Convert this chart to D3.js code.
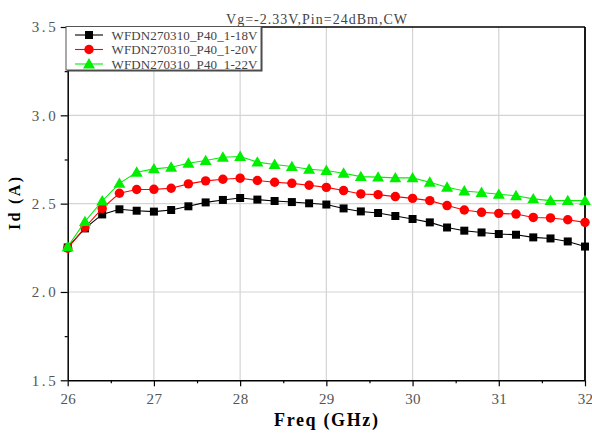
<!DOCTYPE html>
<html><head><meta charset="utf-8">
<script src="https://cdn.jsdelivr.net/npm/d3@7"></script>
<style>
html,body{margin:0;padding:0;background:#fff;}
svg{display:block;}
</style></head>
<body>
<script>
const freqs = [26.0,26.2,26.4,26.6,26.8,27.0,27.2,27.4,27.6,27.8,28.0,28.2,28.4,28.6,28.8,29.0,29.2,29.4,29.6,29.8,30.0,30.2,30.4,30.6,30.8,31.0,31.2,31.4,31.6,31.8,32.0];
const id18V = [2.252,2.360,2.439,2.468,2.460,2.455,2.464,2.485,2.507,2.521,2.532,2.523,2.515,2.509,2.502,2.495,2.473,2.456,2.447,2.430,2.413,2.394,2.365,2.347,2.337,2.328,2.324,2.309,2.303,2.286,2.257];
const id20V = [2.248,2.365,2.473,2.559,2.580,2.581,2.587,2.612,2.629,2.638,2.644,2.631,2.621,2.615,2.604,2.592,2.574,2.555,2.551,2.540,2.530,2.517,2.489,2.464,2.451,2.445,2.441,2.422,2.419,2.409,2.394];
const id22V = [2.256,2.398,2.515,2.615,2.678,2.697,2.706,2.729,2.744,2.763,2.767,2.735,2.722,2.710,2.695,2.688,2.672,2.653,2.650,2.646,2.646,2.621,2.593,2.572,2.563,2.553,2.545,2.527,2.517,2.517,2.517];
const seriesNames = ["WFDN270310_P40_1-18V","WFDN270310_P40_1-20V","WFDN270310_P40_1-22V"];
const xTicks = [26,27,28,29,30,31,32];
const xMinorTicks = [26.5,27.5,28.5,29.5,30.5,31.5];
const yTicks = [1.5,2.0,2.5,3.0,3.5];
const yMinorTicks = [1.75,2.25,2.75,3.25];
const titleText = "Vg=-2.33V,Pin=24dBm,CW";
const xLabel = "Freq (GHz)";
const yLabel = "Id (A)";

const W = 592, H = 434;
const L = 67.7, R = 585, T = 27, B = 380.3;
const serif = "'Liberation Serif','DejaVu Serif',serif";

const svg = d3.select("body").append("svg").attr("width", W).attr("height", H);
const x = d3.scaleLinear().domain([26,32]).range([L,R]);
const y = d3.scaleLinear().domain([1.5,3.5]).range([B,T]);

// grid
svg.append("g").selectAll("line").data(xTicks.slice(1,-1)).join("line")
  .attr("x1", d=>x(d)).attr("x2", d=>x(d)).attr("y1", T).attr("y2", B)
  .attr("stroke", "#d4d4d4").attr("stroke-width", 1.2);
svg.append("g").selectAll("line").data(yTicks.slice(1,-1)).join("line")
  .attr("y1", d=>y(d)).attr("y2", d=>y(d)).attr("x1", L).attr("x2", R)
  .attr("stroke", "#d4d4d4").attr("stroke-width", 1.2);

// axes
const xAxis = d3.axisBottom(x).tickValues(xTicks).tickSize(6).tickSizeOuter(0).tickFormat(d3.format("d"));
const gx = svg.append("g").attr("transform", `translate(0,${B})`).call(xAxis);
gx.select(".domain").attr("stroke", "#000").attr("stroke-width", 1.5);
gx.selectAll(".tick line").attr("stroke", "#000").attr("stroke-width", 1.2);
gx.selectAll(".tick text").attr("font-family", serif).attr("font-size", 15).attr("fill", "#555")
  .attr("dy", "1.0em").style("letter-spacing", "0.3px");
const gxm = svg.append("g").attr("transform", `translate(0,${B})`).call(d3.axisBottom(x).tickValues(xMinorTicks).tickSize(3).tickSizeOuter(0).tickFormat(""));
gxm.select(".domain").remove();
gxm.selectAll(".tick line").attr("stroke", "#000").attr("stroke-width", 1.2);

const yAxis = d3.axisLeft(y).tickValues(yTicks).tickSize(7).tickSizeOuter(0).tickFormat(d3.format(".1f"));
const gy = svg.append("g").attr("transform", `translate(${L},0)`).call(yAxis);
gy.select(".domain").attr("stroke", "#000").attr("stroke-width", 1.5);
gy.selectAll(".tick line").attr("stroke", "#000").attr("stroke-width", 1.2);
gy.selectAll(".tick text").attr("font-family", serif).attr("font-size", 15).attr("fill", "#555")
  .attr("x", -12).attr("textLength", 24).attr("lengthAdjust", "spacing");
const gym = svg.append("g").attr("transform", `translate(${L},0)`).call(d3.axisLeft(y).tickValues(yMinorTicks).tickSize(3).tickSizeOuter(0).tickFormat(""));
gym.select(".domain").remove();
gym.selectAll(".tick line").attr("stroke", "#000").attr("stroke-width", 1.2);

// frame top/right
svg.append("line").attr("x1", L).attr("x2", R).attr("y1", T).attr("y2", T).attr("stroke", "#000").attr("stroke-width", 1.5);
svg.append("line").attr("x1", R).attr("x2", R).attr("y1", T).attr("y2", B).attr("stroke", "#000").attr("stroke-width", 1.8);

// series
const series = [
  {name: seriesNames[0], vals: id18V, color: "#000000", shape: "square"},
  {name: seriesNames[1], vals: id20V, color: "#ff0000", shape: "circle"},
  {name: seriesNames[2], vals: id22V, color: "#00ee00", shape: "triangle"}
];
const symType = {square: d3.symbolSquare, circle: d3.symbolCircle, triangle: d3.symbolTriangle};
const symSize = {square: 64, circle: 70, triangle: 62};
const line = d3.line().x(d=>x(d[0])).y(d=>y(d[1]));
series.forEach(s => {
  const pts = freqs.map((f,i)=>[f, s.vals[i]]);
  const g = svg.append("g");
  g.append("path").attr("d", line(pts)).attr("fill", "none").attr("stroke", s.color).attr("stroke-width", 1.1);
  g.selectAll("path.m").data(pts).join("path").attr("class","m")
    .attr("d", d3.symbol().type(symType[s.shape]).size(symSize[s.shape]))
    .attr("transform", d=>`translate(${x(d[0])},${y(d[1]) + (s.shape==="triangle"?1:0)})`)
    .attr("fill", s.color);
});

// legend
const lg = svg.append("g");
lg.append("rect").attr("x", 67.5).attr("y", 28).attr("width", 195).attr("height", 43.5)
  .attr("fill", "#444");
lg.append("rect").attr("x", 66).attr("y", 26.5).attr("width", 195).attr("height", 43.5)
  .attr("fill", "#fff").attr("stroke", "#555").attr("stroke-width", 1);
const rowY = [35, 49.5, 64];
series.forEach((s,i) => {
  lg.append("line").attr("x1", 75).attr("x2", 103).attr("y1", rowY[i]).attr("y2", rowY[i]).attr("stroke", s.color).attr("stroke-width", 1.1);
  lg.append("path").attr("d", d3.symbol().type(symType[s.shape]).size(symSize[s.shape])())
    .attr("transform", `translate(89,${rowY[i] + (s.shape==="triangle"?1:0)})`).attr("fill", s.color);
  lg.append("text").attr("x", 111.5).attr("y", rowY[i]).attr("dy", "0.36em")
    .attr("font-family", serif).attr("font-size", 13).attr("fill", "#444")
    .attr("textLength", 146).attr("lengthAdjust", "spacing").text(s.name);
});

// title
svg.append("text").attr("x", 226).attr("y", 23.5)
  .attr("font-family", serif).attr("font-size", 14).attr("fill", "#444")
  .attr("textLength", 181).attr("lengthAdjust", "spacing").text(titleText);

// axis labels
svg.append("text").attr("x", 274).attr("y", 426)
  .attr("font-family", serif).attr("font-weight", "bold").attr("font-size", 18).attr("fill", "#000")
  .attr("textLength", 104).attr("lengthAdjust", "spacing").text(xLabel);
svg.append("text").attr("transform", `translate(20,230) rotate(-90)`)
  .attr("font-family", serif).attr("font-weight", "bold").attr("font-size", 16).attr("fill", "#000")
  .attr("textLength", 53).attr("lengthAdjust", "spacing").text(yLabel);
</script>
</body></html>
